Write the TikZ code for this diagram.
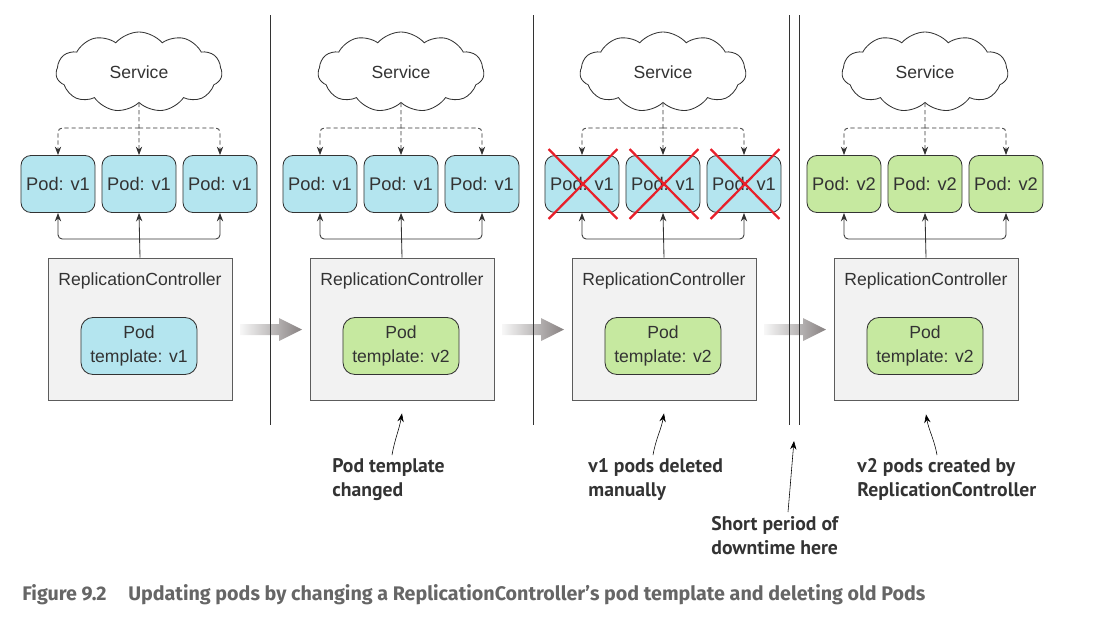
\documentclass[tikz,border=0pt]{standalone}
\usepackage{fontspec}
\setmainfont{Liberation Sans}
\newfontfamily\notefont{PT Sans}
\newfontfamily\capfont{Fira Sans}
\usetikzlibrary{arrows.meta,shapes.symbols,calc}

\definecolor{podblue}{HTML}{B4E5EF}
\definecolor{podgreen}{HTML}{C6E9A0}
\definecolor{rcfill}{HTML}{F2F2F2}
\definecolor{edge}{HTML}{333333}
\definecolor{crossred}{HTML}{E8202A}
\definecolor{capgray}{HTML}{666666}
\definecolor{arrowgray}{HTML}{878181}

\tikzset{
  pod/.style={draw=edge, rounded corners=0.25cm, minimum width=1.85cm, minimum height=1.425cm, inner sep=0pt, font=\fontsize{13}{15}\selectfont},
  rcbox/.style={draw=edge!80, fill=rcfill, minimum width=4.6cm, minimum height=3.55cm, inner sep=0pt},
  tplbox/.style={pod, minimum width=2.9cm, align=center, rounded corners=0.3cm, font=\fontsize{12.5}{17}\selectfont},
  service/.style={draw=edge, cloud, cloud puffs=11, cloud puff arc=100, aspect=2.1, minimum width=4.15cm, minimum height=2cm, inner sep=0pt},
  note/.style={font=\notefont\bfseries\fontsize{14}{17}\selectfont, align=left, anchor=north west, inner sep=0pt},
}

\begin{document}
\begin{tikzpicture}[x=0.025cm, y=-0.025cm, >={Stealth[length=6pt,width=4.5pt]}, semithick, edge, font=\fontsize{12.5}{15}\selectfont]
\useasboundingbox (0,0) rectangle (1107,621);

% Gray arrows between the steps
\foreach \dx in {0,262,524}
  \shade[left color=gray!6, right color=arrowgray, shift={(\dx,0)}] (240,324) -- (279,324) -- (279,318) -- (302,329.5) -- (279,341) -- (279,335) -- (240,335) -- cycle;

% Separators
\foreach \sx in {270,533,789,799}
  \draw[edge, thin] (\sx,15) -- (\sx,425);

% Steps
\foreach \p/\dx/\pv/\pc/\tv/\tc in {1/0/v1/podblue/v1/podblue, 2/262/v1/podblue/v2/podgreen, 3/524/v1/podblue/v2/podgreen, 4/786/v2/podgreen/v2/podgreen}{
\begin{scope}[shift={(\dx,0)}]
  \node (svc\p) [service] at (139,72) {Service};
  \node (pod\p-1) [pod, fill=\pc] at (58,184) {Pod: \pv};
  \node (pod\p-2) [pod, fill=\pc] at (139,184) {Pod: \pv};
  \node (pod\p-3) [pod, fill=\pc] at (220,184) {Pod: \pv};
  \node (rc\p) [rcbox] at (140,329) {};
  \node (rclabel\p) at (140,281) {ReplicationController};
  \node (tpl\p) [tplbox, fill=\tc] at (139,346) {Pod\\template: \tv};
  \coordinate (split\p) at (139,128);
  \coordinate (join\p) at (139,239);
  % service to pods
  \draw[dash pattern=on 3pt off 2pt, ->] (svc\p.south) -- (pod\p-2.north);
  \draw[dash pattern=on 3pt off 2pt, ->, rounded corners=3pt] (split\p) -| (pod\p-1.north);
  \draw[dash pattern=on 3pt off 2pt, ->, rounded corners=3pt] (split\p) -| (pod\p-3.north);
  % controller to pods
  \draw[->] (rc\p.north) -- (pod\p-2.south);
  \draw[->, rounded corners=3pt] (join\p) -| (pod\p-1.south);
  \draw[->, rounded corners=3pt] (join\p) -| (pod\p-3.south);
\end{scope}
}

% Deleted pods
\foreach \k in {1,2,3}{
  \draw[crossred, line width=1.6pt] ($(pod3-\k.north west)+(4,-6)$) -- ($(pod3-\k.south east)+(-2,6)$);
  \draw[crossred, line width=1.6pt] ($(pod3-\k.north east)+(-2,-6)$) -- ($(pod3-\k.south west)+(4,6)$);
}

% Notes
\node (noteTpl) [note] at (332,458) {Pod template\\changed};
\node (noteDel) [note] at (588,458) {v1 pods deleted\\manually};
\node (noteNew) [note] at (857,458) {v2 pods created by\\ReplicationController};
\node (noteGap) [note] at (711,516) {Short period of\\downtime here};
\coordinate (gapTip) at (794,441);

\draw[->, thin, black] ($(noteTpl.north west)+(60,-3)$) to[out=80, in=-100] ($(rc2.south)+(0,13)$);
\draw[->, thin, black] ($(noteDel.north west)+(65,-3)$) to[out=80, in=-100] ($(rc3.south)+(0,13)$);
\draw[->, thin, black] ($(noteNew.north west)+(80,-3)$) to[out=100, in=-80] ($(rc4.south)+(0,14)$);
\draw[->, thin, black] ($(noteGap.north west)+(77,-4)$) to[out=85, in=-95] (gapTip);

% Caption
\node (caption) [anchor=base west, inner sep=0pt, text=capgray, font=\capfont\bfseries\fontsize{14}{16}\selectfont] at (22,600) {Figure 9.2\hspace{1.1em}Updating pods by changing a ReplicationController’s pod template and deleting old Pods};

\end{tikzpicture}
\end{document}
